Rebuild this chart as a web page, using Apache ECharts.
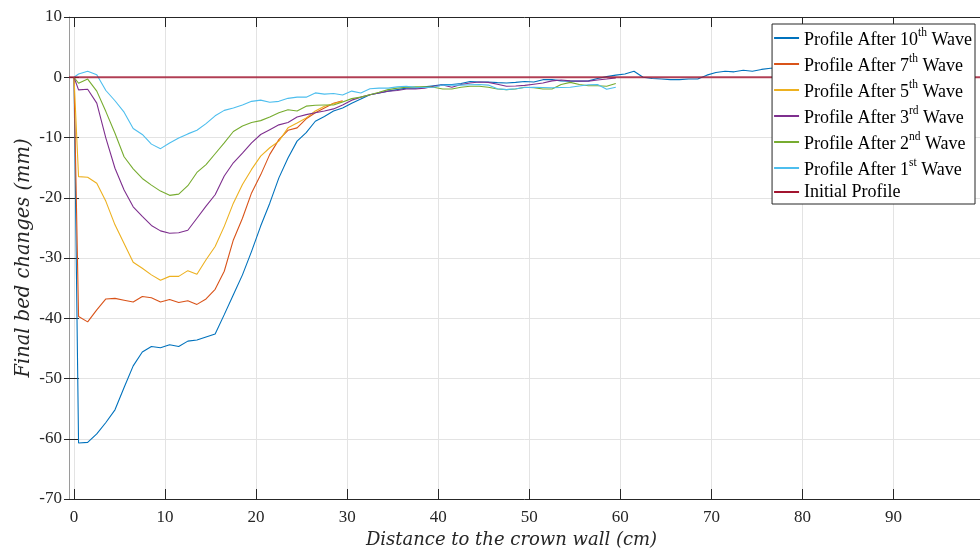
<!DOCTYPE html>
<html><head><meta charset="utf-8">
<script src="https://cdn.jsdelivr.net/npm/echarts@6/dist/echarts.min.js"></script>
<style>html,body{margin:0;padding:0;background:#fff}#c{width:980px;height:556px}</style>
</head><body><div id="c"></div>
<script>
// Distance to the crown wall (cm) of each measured point
const distance = [0,0.5,1.5,2.5,3.5,4.5,5.5,6.5,7.5,8.5,9.5,10.5,11.5,12.5,13.5,14.5,15.5,16.5,17.5,18.5,19.5,
  20.5,21.5,22.5,23.5,24.5,25.5,26.5,27.5,28.5,29.5,30.5,31.5,32.5,33.5,34.5,35.5,36.5,37.5,38.5,39.5,
  40.5,41.5,42.5,43.5,44.5,45.5,46.5,47.5,48.5,49.5,50.5,51.5,52.5,53.5,54.5,55.5,56.5,57.5,58.5,59.5,
  60.5,61.5,62.5,63.5,64.5,65.5,66.5,67.5,68.5,69.5,70.5,71.5,72.5,73.5,74.5,75.5,76.5,77.5,78.5,79.5];

const wave10 = [0,-60.7,-60.6,-59.2,-57.3,-55.2,-51.5,-47.9,-45.6,-44.7,-44.9,-44.4,-44.7,-43.8,-43.6,-43.1,-42.6,
  -39.4,-36.1,-32.8,-28.9,-24.7,-20.9,-16.7,-13.4,-10.6,-9.2,-7.3,-6.5,-5.6,-5.1,-4.3,-3.6,-2.9,-2.6,-2.3,-2.05,
  -1.8,-1.8,-1.6,-1.4,-1.2,-1.2,-1.05,-0.7,-0.8,-0.8,-0.9,-0.95,-0.85,-0.7,-0.8,-0.4,-0.4,-0.6,-0.65,-0.65,-0.6,
  -0.2,0.1,0.35,0.55,1.0,0.0,-0.2,-0.3,-0.4,-0.4,-0.3,-0.3,0.35,0.8,1.0,0.9,1.15,1.0,1.3,1.5,1.6,1.5,1.7];

const wave7 = [0,-39.7,-40.6,-38.6,-36.8,-36.7,-37.0,-37.3,-36.4,-36.6,-37.3,-36.9,-37.4,-37.1,-37.7,-36.8,-35.2,
  -32.2,-27.0,-23.4,-19.2,-16.2,-12.8,-10.35,-8.8,-8.4,-6.9,-5.9,-5.1,-4.3,-3.9];

const wave5 = [0,-16.5,-16.6,-17.6,-20.6,-24.5,-27.6,-30.7,-31.7,-32.8,-33.7,-33.05,-33.05,-32.1,-32.7,-30.3,-28.1,
  -24.75,-20.9,-17.8,-15.3,-13.1,-11.7,-10.6,-8.4,-7.6,-6.75,-5.6,-4.8,-4.4,-4.0];

const wave3 = [0,-2.1,-2.0,-4.3,-10.1,-15.1,-18.7,-21.5,-23.1,-24.6,-25.5,-25.9,-25.8,-25.4,-23.4,-21.4,-19.5,
  -16.4,-14.2,-12.6,-10.9,-9.5,-8.7,-7.9,-7.5,-6.6,-6.2,-5.9,-5.6,-5.25,-4.6,-3.8,-3.3,-2.9,-2.6,-2.3,-2.2,
  -1.95,-1.95,-1.8,-1.5,-1.3,-1.65,-1.2,-0.95,-0.8,-0.85,-1.15,-1.5,-1.45,-1.35,-1.15,-0.95,-0.6,-0.45,-0.6,
  -0.65,-0.65,-0.45,-0.3,-0.1];

const wave2 = [0,-1.0,-0.3,-2.3,-5.7,-9.3,-13.2,-15.2,-16.8,-17.9,-18.9,-19.6,-19.4,-18.0,-15.8,-14.5,-12.7,
  -10.9,-9.0,-8.1,-7.5,-7.2,-6.6,-5.9,-5.4,-5.6,-4.8,-4.65,-4.6,-4.6,-4.1,-3.55,-3.3,-2.9,-2.5,-2.05,-1.8,
  -1.65,-1.6,-1.6,-1.65,-1.95,-1.95,-1.65,-1.5,-1.5,-1.65,-1.95,-2.05,-1.95,-1.65,-1.75,-1.95,-1.95,-1.2,
  -0.85,-1.2,-1.4,-1.4,-1.5,-1.05];

const wave1 = [0,0.55,1.0,0.4,-2.2,-3.9,-5.8,-8.5,-9.5,-11.1,-11.85,-10.9,-10.1,-9.4,-8.8,-7.7,-6.4,
  -5.5,-5.1,-4.6,-4.0,-3.8,-4.15,-4.0,-3.5,-3.3,-3.3,-2.6,-2.8,-2.7,-2.95,-2.3,-2.6,-1.9,-1.8,-1.8,-1.6,
  -1.5,-1.65,-1.7,-1.65,-1.3,-1.3,-1.3,-1.25,-1.2,-1.3,-1.9,-2.05,-1.9,-1.7,-1.65,-1.7,-1.75,-1.7,-1.65,
  -1.45,-1.25,-1.2,-2.0,-1.65];

const initialX = [-0.55, 99.5];
const initialY = [0, 0];

const xTicks = [0,10,20,30,40,50,60,70,80,90];
const legendNames = ['Profile After 10th Wave','Profile After 7th Wave','Profile After 5th Wave',
  'Profile After 3rd Wave','Profile After 2nd Wave','Profile After 1st Wave','Initial Profile'];
const colors = ['#0072BD','#D95319','#EDB120','#7E2F8E','#77AC30','#4DBEEE','#A2142F'];

function pairs(ys){ return ys.map((y,i)=>[distance[i], y]); }

const serif = 'Liberation Serif';
const ink = '#262626';
const chart = echarts.init(document.getElementById('c'), null, {renderer:'canvas'});

const waveData = [wave10, wave7, wave5, wave3, wave2, wave1];
const series = waveData.map((d,i)=>({
  name: legendNames[i], type:'line', data: pairs(d), symbol:'none', showSymbol:false,
  lineStyle:{color:colors[i], width:1.1}, itemStyle:{color:colors[i]}, animation:false
}));
series.push({
  name: legendNames[6], type:'line', data: initialX.map((x,i)=>[x, initialY[i]]), symbol:'none',
  lineStyle:{color:colors[6], width:2, opacity:0.8}, itemStyle:{color:colors[6]}, animation:false
});

const option = {
  animation:false,
  backgroundColor:'#fff',
  grid:{left:69, right:0, top:17, bottom:57},
  xAxis:[{
    type:'value', min:-0.55, max:99.5, position:'bottom',
    axisLine:{show:true, onZero:false, lineStyle:{color:ink, width:1}},
    axisTick:{show:true, inside:true, length:10, customValues:xTicks, lineStyle:{color:ink}},
    axisLabel:{customValues:xTicks, fontFamily:serif, fontSize:17, color:ink, margin:10},
    splitLine:{show:true, lineStyle:{color:'#e3e3e3', width:1}},
    name:'Distance to the crown wall (cm)', nameLocation:'middle', nameGap:30,
    nameTextStyle:{fontFamily:'DejaVu Serif', fontStyle:'italic', fontSize:18, color:ink, padding:[0,26,0,0]}
  },{
    type:'value', min:-0.55, max:99.5, position:'top',
    axisLine:{show:true, onZero:false, lineStyle:{color:ink, width:1}},
    axisTick:{show:true, inside:true, length:10, customValues:xTicks, lineStyle:{color:ink}},
    axisLabel:{show:false}, splitLine:{show:false}
  }],
  yAxis:[{
    type:'value', min:-70, max:10, interval:10,
    axisLine:{show:true, onZero:false, lineStyle:{color:'#9a9a9a', width:1}},
    axisTick:{show:true, inside:true, length:10, lineStyle:{color:ink}},
    axisLabel:{fontFamily:serif, fontSize:17, color:ink, margin:7},
    splitLine:{show:true, lineStyle:{color:'#e3e3e3', width:1}},
    name:'Final bed changes (mm)', nameLocation:'middle', nameGap:35, nameMoveOverlap:false,
    nameTextStyle:{fontFamily:'DejaVu Serif', fontStyle:'italic', fontSize:19.5, color:ink}
  },{
    type:'value', min:-70, max:10, interval:10, position:'right',
    axisLine:{show:false},
    axisTick:{show:true, inside:true, length:10, lineStyle:{color:ink}},
    axisLabel:{show:false}, splitLine:{show:false}
  }],
  legend:{
    orient:'vertical', right:5, top:24, itemWidth:25, itemHeight:2, itemGap:4, icon:'rect',
    padding:[3,3,3,2], backgroundColor:'#fff', borderColor:ink, borderWidth:1, borderRadius:0,
    data:legendNames,
    textStyle:{fontFamily:serif, fontSize:18, color:'#000',
      rich:{
        t:{fontFamily:serif, fontSize:18, color:'#000', lineHeight:22, verticalAlign:'bottom'},
        s:{fontFamily:serif, fontSize:11.5, color:'#000', lineHeight:14, verticalAlign:'top'},
        i:{fontFamily:serif, fontSize:18, color:'#000', lineHeight:17}
      }},
    formatter: function(name){
      const m = name.match(/^(Profile After \d+)(st|nd|rd|th)( Wave)$/);
      if (m) return '{t|' + m[1] + '}{s|' + m[2] + '}{t|' + m[3] + '}';
      return '{i|' + name + '}';
    }
  },
  series: series
};
chart.setOption(option);
</script>
</body></html>
